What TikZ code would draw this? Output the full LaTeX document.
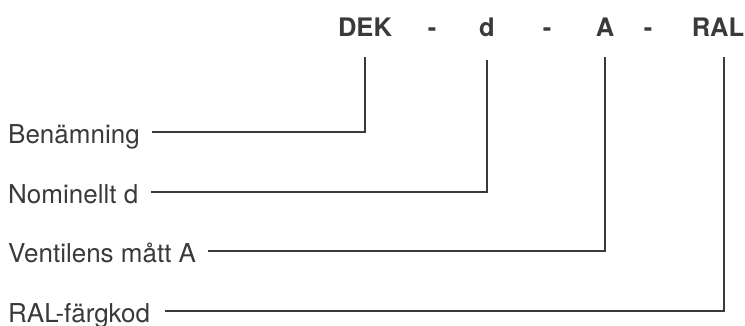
\documentclass[tikz,border=0pt]{standalone}
\usepackage{fontspec}
\setmainfont{TeX Gyre Heros}
\usepackage{tikz}

\definecolor{ink}{HTML}{3A3A3A}
\tikzset{
  codepart/.style={anchor=base,inner sep=3pt,text=ink,font=\fontsize{25.5}{30}\selectfont\bfseries},
  partlabel/.style={anchor=base west,inner sep=0pt,text=ink,font=\fontsize{26}{31}\selectfont},
  link/.style={draw=ink,line width=1.5pt}
}

\begin{document}
\begin{tikzpicture}[x=1pt,y=-1pt]
    \useasboundingbox (0,0) rectangle (745,325);
    \node[codepart] (dek) at (365,36) {DEK};
    \node[codepart] (s1) at (432,36) {-};
    \node[codepart] (d) at (487,36) {d};
    \node[codepart] (s2) at (547,36) {-};
    \node[codepart] (a) at (605,36) {A};
    \node[codepart] (s3) at (648,36) {-};
    \node[codepart] (ral) at (718,36) {RAL};

    \node[partlabel] (ben) at (8,143) {Benämning};
    \node[partlabel] (nom) at (8,203) {Nominellt d};
    \node[partlabel] (ven) at (8,262) {Ventilens mått A};
    \node[partlabel] (rgb) at (8,322) {RAL-färgkod};

    \draw[link] ([xshift=12pt,yshift=11pt]ben.base east) -| ([yshift=-18pt]dek.south);
    \draw[link] ([xshift=13pt,yshift=11pt]nom.base east) -| ([yshift=-21pt]d.south);
    \draw[link] ([xshift=12pt,yshift=11pt]ven.base east) -| ([yshift=-18pt]a.south);
    \draw[link] ([xshift=15pt,yshift=11pt]rgb.base east) -| ([xshift=6pt,yshift=-18pt]ral.south);
\end{tikzpicture}
\end{document}
